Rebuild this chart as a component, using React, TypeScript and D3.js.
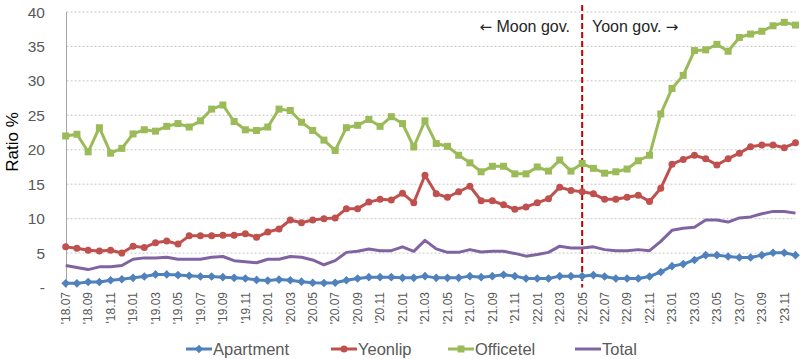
import React from "react";
import * as d3 from "d3";

const months: string[] = [
  "'18.07","'18.08","'18.09","'18.10","'18.11","'18.12",
  "'19.01","'19.02","'19.03","'19.04","'19.05","'19.06","'19.07","'19.08","'19.09","'19.10","'19.11","'19.12",
  "'20.01","'20.02","'20.03","'20.04","'20.05","'20.06","'20.07","'20.08","'20.09","'20.10","'20.11","'20.12",
  "'21.01","'21.02","'21.03","'21.04","'21.05","'21.06","'21.07","'21.08","'21.09","'21.10","'21.11","'21.12",
  "'22.01","'22.02","'22.03","'22.04","'22.05","'22.06","'22.07","'22.08","'22.09","'22.10","'22.11","'22.12",
  "'23.01","'23.02","'23.03","'23.04","'23.05","'23.06","'23.07","'23.08","'23.09","'23.10","'23.11","'23.12",
];

const apartment: number[] = [
  0.6, 0.6, 0.8, 0.8, 1.05, 1.2, 1.4, 1.6, 1.9, 1.9, 1.8, 1.7, 1.6, 1.6, 1.5, 1.4, 1.3, 1.1, 1.0, 1.15,
  1.05, 0.85, 0.7, 0.65, 0.7, 1.05, 1.3, 1.5, 1.5, 1.5, 1.4, 1.4, 1.65, 1.4, 1.4, 1.4, 1.65, 1.5, 1.65, 1.85, 1.65, 1.3, 1.3,
  1.3, 1.65, 1.65, 1.65, 1.8, 1.6, 1.3, 1.3, 1.3, 1.6, 2.25, 3.1, 3.4, 4.0, 4.7, 4.7, 4.5, 4.35, 4.35, 4.7, 5.05, 5.05, 4.7,
];

const yeonlip: number[] = [
  5.9, 5.7, 5.4, 5.3, 5.4, 5.0, 6.0, 5.8, 6.5, 6.75, 6.3, 7.5, 7.5, 7.5, 7.6, 7.6, 7.8, 7.3, 8.05, 8.5,
  9.8, 9.4, 9.8, 10.0, 10.1, 11.45, 11.45, 12.4, 12.8, 12.7, 13.7, 12.3, 16.3, 13.6, 13.1, 13.9, 14.7, 12.6, 12.6, 12.0, 11.35, 11.7, 12.3,
  12.9, 14.55, 14.1, 13.9, 13.6, 12.8, 12.8, 13.1, 13.4, 12.5, 14.4, 17.9, 18.6, 19.2, 18.7, 17.8, 18.7, 19.5, 20.45, 20.7, 20.7, 20.3, 21.0,
];

const officetel: number[] = [
  22.0, 22.25, 19.7, 23.2, 19.5, 20.2, 22.3, 22.9, 22.7, 23.4, 23.8, 23.3, 24.2, 25.9, 26.5, 24.1, 22.9, 22.8, 23.3, 25.9,
  25.7, 24.0, 22.8, 21.4, 19.9, 23.2, 23.55, 24.4, 23.4, 24.8, 23.8, 20.4, 24.2, 20.9, 20.5, 19.2, 18.1, 16.8, 17.6, 17.6, 16.5, 16.5, 17.5,
  16.9, 18.5, 16.9, 18.0, 17.3, 16.6, 16.8, 17.2, 18.4, 19.2, 25.2, 28.9, 30.8, 34.4, 34.5, 35.3, 34.3, 36.3, 36.8, 37.2, 38.0, 38.5, 38.1,
];

const total: number[] = [
  3.2, 2.9, 2.6, 3.0, 3.0, 3.2, 4.1, 4.3, 4.3, 4.4, 4.1, 4.1, 4.1, 4.4, 4.5, 3.9, 3.75, 3.6, 4.1, 4.1,
  4.5, 4.4, 4.0, 3.3, 3.9, 5.1, 5.25, 5.6, 5.35, 5.35, 5.9, 5.25, 6.85, 5.6, 5.1, 5.1, 5.5, 5.15, 5.25, 5.25, 4.95, 4.55, 4.8,
  5.1, 6.0, 5.75, 5.75, 5.9, 5.5, 5.35, 5.35, 5.5, 5.35, 6.7, 8.3, 8.6, 8.75, 9.8, 9.8, 9.5, 10.1, 10.25, 10.7, 11.05, 11.05, 10.8,
];

const yTicks: number[] = [0, 5, 10, 15, 20, 25, 30, 35, 40];
const govChangeMonth = "'22.05";

type Marker = "diamond" | "circle" | "square" | "none";
const seriesNames = ["Apartment", "Yeonlip", "Officetel", "Total"];
const seriesColors = ["#4F81BD", "#C0504D", "#9BBB59", "#8064A2"];
const seriesMarkers: Marker[] = ["diamond", "circle", "square", "none"];
const seriesData = [apartment, yeonlip, officetel, total];

const FONT = "'Liberation Sans', Arial, sans-serif";
const ARROW_FONT = "'DejaVu Sans', sans-serif";

function MarkerShape({ type, x, y, color }: { type: Marker; x: number; y: number; color: string }) {
  if (type === "diamond") {
    const r = 4.3;
    return <path d={`M${x},${y - r}L${x + r},${y}L${x},${y + r}L${x - r},${y}Z`} fill={color} />;
  }
  if (type === "circle") return <circle cx={x} cy={y} r={3.5} fill={color} />;
  if (type === "square") return <rect x={x - 3.5} y={y - 3.5} width={7} height={7} fill={color} />;
  return null;
}

export default function App() {
  React.useEffect(() => {
    document.body.style.margin = "0";
  }, []);

  const W = 800, H = 359;
  const x = d3.scalePoint<string>().domain(months).range([65.7, 795.5]);
  const y = d3.scaleLinear().domain([0, 40]).range([287.5, 12]);
  const line = d3
    .line<number>()
    .x((_, i) => x(months[i]) as number)
    .y((d) => y(d));

  const xTickLabels = months.filter((_, i) => i % 2 === 0);
  const govX = x(govChangeMonth) as number;

  const legendItems = [
    { lx: 186, tx: 213 },
    { lx: 331, tx: 358 },
    { lx: 448, tx: 475 },
    { lx: 575, tx: 602 },
  ];

  return (
    <svg width={W} height={H} style={{ position: "absolute", left: 0, top: 0, background: "#fff" }} fontFamily={FONT}>
      {yTicks.filter((t) => t > 0).map((t) => (
        <line key={t} x1={66.5} x2={795.5} y1={y(t)} y2={y(t)} stroke="#C6C6C6" strokeWidth={1} strokeDasharray="2,2" />
      ))}
      <line x1={66.5} x2={66.5} y1={y(40)} y2={y(0)} stroke="#A6A6A6" strokeWidth={1} />
      {yTicks.map((t) => (
        <text key={t} x={45} y={y(t)} dy="0.36em" textAnchor="end" fontSize={15.5} fill="#595959">
          {t === 0 ? "-" : t}
        </text>
      ))}
      <text transform={`translate(18,142) rotate(-90)`} textAnchor="middle" fontSize={17} fill="#000">
        Ratio %
      </text>
      {xTickLabels.map((m) => (
        <text
          key={m}
          transform={`translate(${x(m)},292) rotate(-90)`}
          textAnchor="end"
          dy="0.36em"
          fontSize={12}
          fill="#595959"
        >
          {m}
        </text>
      ))}
      <line x1={govX} x2={govX} y1={5} y2={287.5} stroke="#C00000" strokeWidth={2} strokeDasharray="6,3" />
      <text x={570} y={31.5} textAnchor="end" fontSize={16} fill="#262626">
        <tspan fontFamily={ARROW_FONT} fontSize={15}>←</tspan> Moon gov.
      </text>
      <text x={592} y={31.5} fontSize={16} fill="#262626">
        Yoon gov. <tspan fontFamily={ARROW_FONT} fontSize={15}>→</tspan>
      </text>
      {seriesData.map((data, si) => (
        <g key={seriesNames[si]}>
          <path d={line(data) || ""} fill="none" stroke={seriesColors[si]} strokeWidth={3} strokeLinejoin="round" />
          {data.map((v, i) => (
            <MarkerShape key={i} type={seriesMarkers[si]} x={x(months[i]) as number} y={y(v)} color={seriesColors[si]} />
          ))}
        </g>
      ))}
      {seriesNames.map((name, si) => (
        <g key={name}>
          <line x1={legendItems[si].lx} x2={legendItems[si].lx + 26} y1={349} y2={349} stroke={seriesColors[si]} strokeWidth={3} />
          <MarkerShape type={seriesMarkers[si]} x={legendItems[si].lx + 13} y={349} color={seriesColors[si]} />
          <text x={legendItems[si].tx} y={355} fontSize={16.5} fill="#595959">
            {name}
          </text>
        </g>
      ))}
    </svg>
  );
}
